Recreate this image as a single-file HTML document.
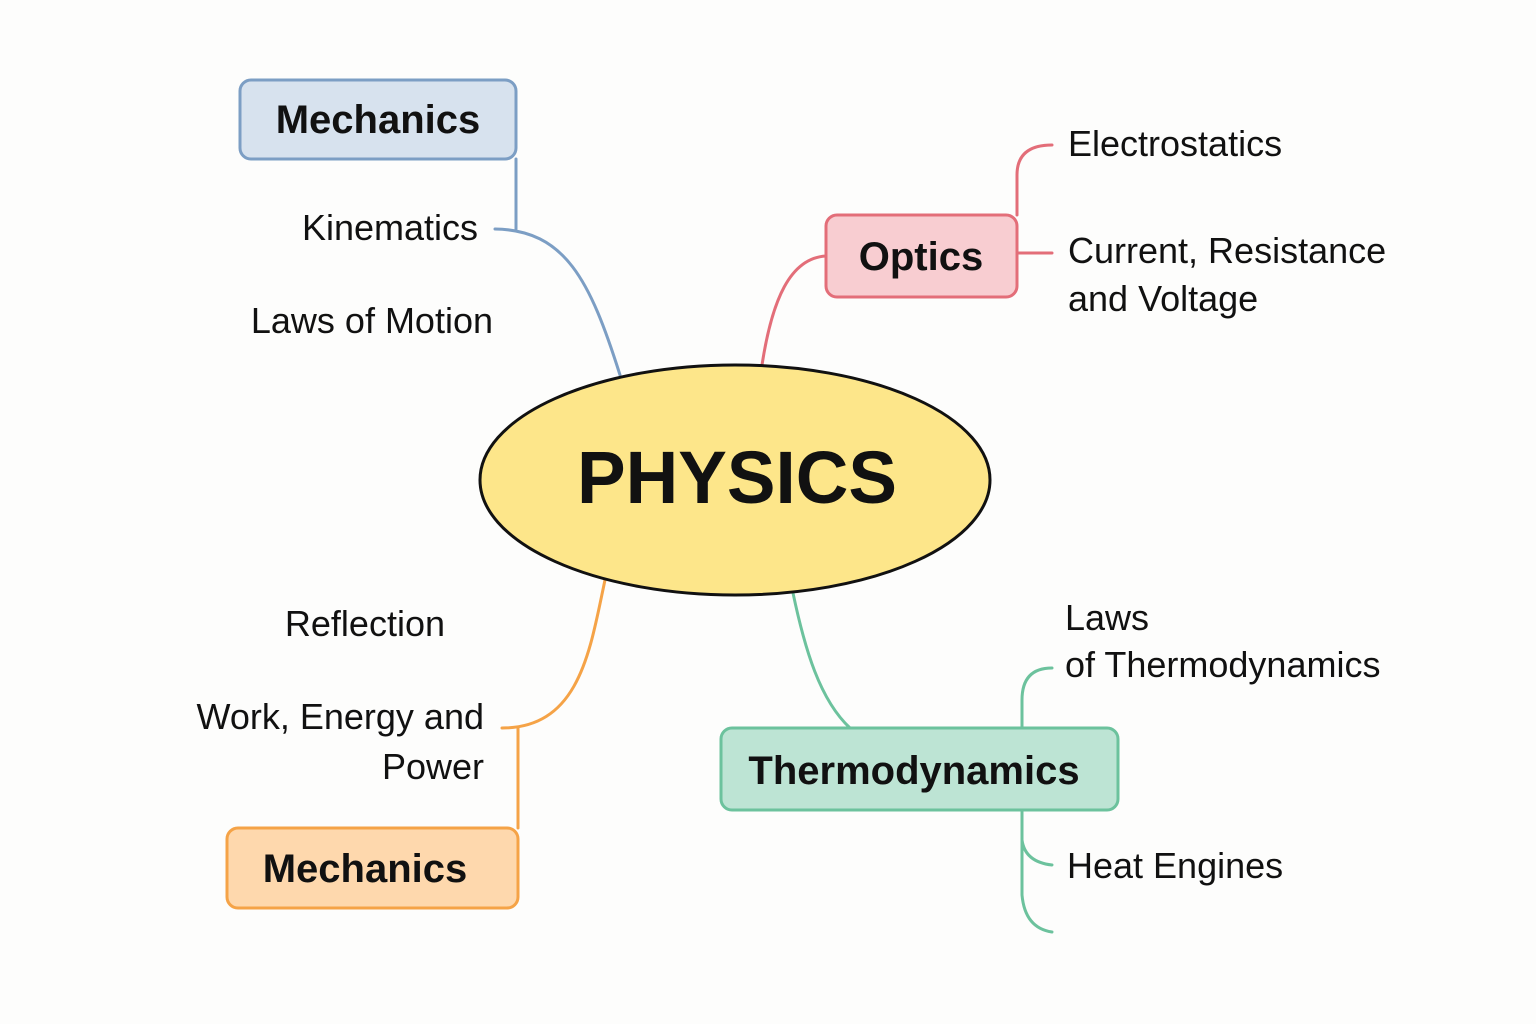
<!DOCTYPE html>
<html><head><style>
html,body{margin:0;padding:0;background:#fdfdfc;}
svg{display:block}
text{font-family:"Liberation Sans","DejaVu Sans",sans-serif;fill:#111}
</style></head><body>
<svg width="1536" height="1024" viewBox="0 0 1536 1024" xmlns="http://www.w3.org/2000/svg">
<rect width="1536" height="1024" fill="#fdfdfc"/>
<g fill="none" stroke-width="3" stroke-linecap="round">
<path d="M620,375 C590,280 565,230 495,229" stroke="#7c9ec4"/>
<path d="M516,159 L516,229" stroke="#7c9ec4"/>
<path d="M762,365 C772,300 790,258 826,256" stroke="#e36e79"/>
<path d="M1017,215 L1017,175 Q1017,145 1052,145" stroke="#e36e79"/>
<path d="M1017,253 L1052,253" stroke="#e36e79"/>
<path d="M605,580 C590,650 580,728 502,728" stroke="#f5a347"/>
<path d="M518,728 L518,828" stroke="#f5a347"/>
<path d="M793,593 C805,650 820,700 850,728" stroke="#6cc29d"/>
<path d="M1022,728 L1022,700 Q1022,668 1052,668" stroke="#6cc29d"/>
<path d="M1022,810 L1022,840 Q1025,862 1052,865" stroke="#6cc29d"/>
<path d="M1022,840 L1022,895 Q1025,928 1052,932" stroke="#6cc29d"/>
</g>
<ellipse cx="735" cy="480" rx="255" ry="115" fill="#fde68a" stroke="#111" stroke-width="3"/>
<text x="577" y="503" font-size="74" font-weight="bold" textLength="320" lengthAdjust="spacingAndGlyphs">PHYSICS</text>
<rect x="240" y="80" width="276" height="79" rx="11" fill="#d7e2ee" stroke="#7c9ec4" stroke-width="3"/>
<text x="378" y="133" font-size="40" font-weight="bold" text-anchor="middle">Mechanics</text>
<rect x="826" y="215" width="191" height="82" rx="11" fill="#f8cdd1" stroke="#e36e79" stroke-width="3"/>
<text x="921" y="270" font-size="40" font-weight="bold" text-anchor="middle">Optics</text>
<rect x="227" y="828" width="291" height="80" rx="11" fill="#fed8ad" stroke="#f5a347" stroke-width="3"/>
<text x="365" y="882" font-size="40" font-weight="bold" text-anchor="middle">Mechanics</text>
<rect x="721" y="728" width="397" height="82" rx="11" fill="#bde4d4" stroke="#6cc29d" stroke-width="3"/>
<text x="914" y="784" font-size="40" font-weight="bold" text-anchor="middle">Thermodynamics</text>
<g font-size="36">
<text x="478" y="240" text-anchor="end">Kinematics</text>
<text x="493" y="333" text-anchor="end">Laws of Motion</text>
<text x="1068" y="156">Electrostatics</text>
<text x="1068" y="263">Current, Resistance</text>
<text x="1068" y="311">and Voltage</text>
<text x="445" y="636" text-anchor="end">Reflection</text>
<text x="484" y="729" text-anchor="end">Work, Energy and</text>
<text x="484" y="779" text-anchor="end">Power</text>
<text x="1065" y="630">Laws</text>
<text x="1065" y="677">of Thermodynamics</text>
<text x="1067" y="878">Heat Engines</text>
</g>
</svg>
</body></html>
